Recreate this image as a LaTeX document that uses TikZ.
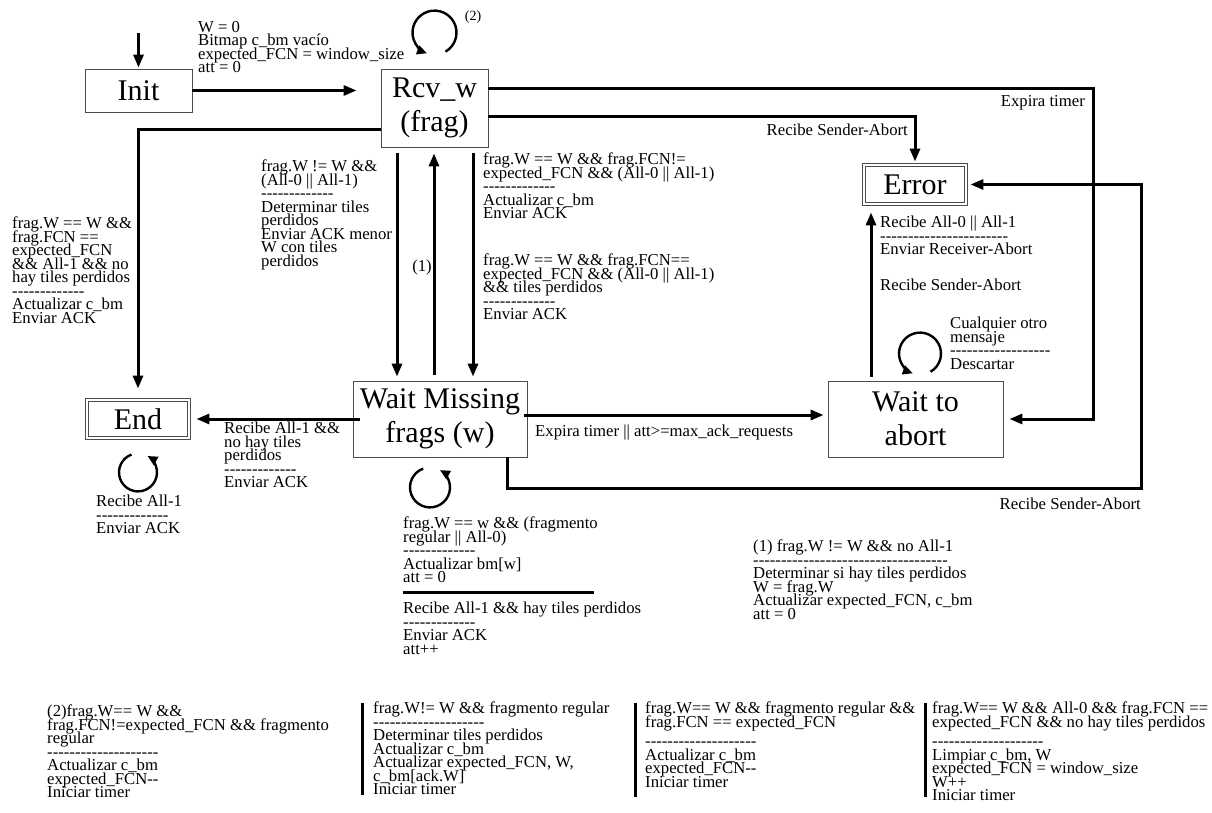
\documentclass[tikz,border=0pt]{standalone}
\usepackage{fontspec}
\setmainfont{Liberation Serif}[Ligatures=TeXOff]
\usepackage{tikz}
\usetikzlibrary{arrows.meta,positioning,calc}
\newcommand{\smtxt}{\fontsize{16.7}{13.5}\selectfont}
\newcommand{\bigtxt}{\fontsize{30}{34}\selectfont}
\newcommand{\dl}[1]{\foreach\k in {1,...,#1}{-}}
\lineskiplimit=-\maxdimen

\begin{document}
\begin{tikzpicture}[x=1pt, y=-1pt,
  box/.style={draw=black!70, line width=0.8pt, inner sep=0pt, align=center, font=\bigtxt},
  finbox/.style={box, double, double distance=1.6pt},
  arr/.style={line width=3pt, -{Triangle[length=13pt,width=10pt]}},
  loopy/.style={line width=2.4pt, -{Triangle[length=10pt,width=9pt]}},
  lbl/.style={font=\smtxt, align=left, inner sep=0pt},
  bar/.style={line width=3pt}]
\useasboundingbox (0,0) rectangle (1212,813);

\node[box, minimum width=107pt, minimum height=43pt] (init) at (138.5,90.5) {Init};
\node[box, minimum width=107pt, minimum height=78pt] (rcv) at (434.5,108) {Rcv\_w\\(frag)};
\node[box, minimum width=174pt, minimum height=76pt] (wmiss) at (440,419) {Wait Missing\\frags (w)};
\node[box, minimum width=175pt, minimum height=76pt] (wabort) at (915.5,419) {Wait to\\abort};
\node[finbox, minimum width=102pt, minimum height=39pt] (err) at (915,184.5) {Error};
\node[finbox, minimum width=102pt, minimum height=38pt] (fin) at (138,419) {End};

\coordinate (start) at (138.5,33);
\draw[arr, shorten >=1pt] (start) -- (init.north);
\draw[arr, shorten >=24pt] (init.east) -- (init.east -| rcv.west);
\draw[arr, shorten >=6pt] ([yshift=19pt]rcv.east) -| ($(wabort.east)+(90,0)$) -- (wabort.east);
\draw[arr, shorten >=3pt] ([yshift=-9pt]rcv.east) -| (err.north);
\draw[arr, shorten >=11pt] ([yshift=-22pt]rcv.west) -| (fin.north);
\draw[arr, shorten <=6pt, shorten >=4pt] ([xshift=-37.5pt]rcv.south) -- ([xshift=-37.5pt]rcv.south |- wmiss.north);
\draw[arr, shorten <=6pt, shorten >=6pt] ([xshift=-6pt]wmiss.north) -- ([xshift=-6pt]wmiss.north |- rcv.south);
\draw[arr, shorten <=6pt, shorten >=4pt] ([xshift=38.5pt]rcv.south) -- ([xshift=38.5pt]rcv.south |- wmiss.north);
\draw[arr, shorten <=-7pt, shorten >=7pt] (wmiss.west) -- (wmiss.west -| fin.east);
\draw[arr, shorten <=-3pt, shorten >=4pt] ([yshift=4pt]wmiss.east) -- ([yshift=4pt]wmiss.east -| wabort.west);
\draw[arr, shorten <=4pt, shorten >=8pt] ([xshift=-44.5pt]wabort.north) -- ([xshift=-44.5pt]wabort.north |- err.south);
\draw[arr, shorten >=4pt] ([xshift=-20pt]wmiss.south east) |- ($(err.east)+(175,303.5)$) |- (err.east);

\coordinate (lp1) at ($(rcv.north)+(0,-36)$);
\coordinate (lp2) at ($(fin.south)+(0,34)$);
\coordinate (lp3) at ($(wmiss.south)+(-10,30)$);
\coordinate (lp4) at ($(wabort.north)+(4.5,-27)$);
\draw[loopy] ([shift={(-60:22pt)}]lp1) arc[start angle=-60, end angle=250, radius=22pt];
\draw[loopy] ([shift={(110:19pt)}]lp2) arc[start angle=110, end angle=420, radius=19pt];
\draw[loopy] ([shift={(110:20pt)}]lp3) arc[start angle=110, end angle=420, radius=20pt];
\draw[loopy] ([shift={(-60:21pt)}]lp4) arc[start angle=-60, end angle=250, radius=21pt];

\node[lbl, anchor=north west] (initlbl) at (198,21) {W = 0\\Bitmap c\_bm vacío\\expected\_FCN = window\_size\\att = 0};
\node[lbl, font=\fontsize{14}{14}\selectfont] (twolbl) at (473,17) {(2)};
\node[lbl, anchor=east] (expiralbl) at (1085,103) {Expira timer};
\node[lbl, anchor=east] (sabortlbl) at (908,130) {Recibe Sender-Abort};
\node[lbl, anchor=north west] (finlbl) at (12,217) {frag.W == W \&\&\\frag.FCN ==\\expected\_FCN\\\&\& All-1 \&\& no\\hay tiles perdidos\\\dl{13}\\Actualizar c\_bm\\Enviar ACK};
\node[lbl, anchor=north west] (downlbl) at (261,160) {frag.W != W \&\&\\(All-0 || All-1)\\\dl{13}\\Determinar tiles\\perdidos\\Enviar ACK menor\\W con tiles\\perdidos};
\node[lbl, anchor=east] (onelbl) at (432,267) {(1)};
\node[lbl, anchor=north west] (neqlbl) at (483,153) {frag.W == W \&\& frag.FCN!=\\expected\_FCN \&\& (All-0 || All-1)\\\dl{13}\\Actualizar c\_bm\\Enviar ACK};
\node[lbl, anchor=north west] (eqlbl) at (483,254) {frag.W == W \&\& frag.FCN==\\expected\_FCN \&\& (All-0 || All-1)\\\&\& tiles perdidos\\\dl{13}\\Enviar ACK};
\node[lbl, anchor=north west] (errlbl) at (880,216) {Recibe All-0 || All-1\\\dl{23}\\Enviar Receiver-Abort};
\node[lbl, anchor=west] (errlbl2) at (880,285) {Recibe Sender-Abort};
\node[lbl, anchor=north west] (discardlbl) at (950,317) {Cualquier otro\\mensaje\\\dl{18}\\Descartar};
\node[lbl, anchor=north west] (endlbl) at (224,422) {Recibe All-1 \&\&\\no hay tiles\\perdidos\\\dl{13}\\Enviar ACK};
\node[lbl, anchor=north west] (endloop) at (96,495) {Recibe All-1\\\dl{13}\\Enviar ACK};
\node[lbl, anchor=west] (timerlbl) at (535,433) {Expira timer || att>=max\_ack\_requests};
\node[lbl, anchor=east] (sabortlbl2) at (1141,504) {Recibe Sender-Abort};
\node[lbl, anchor=north west] (wmlbl) at (403,517) {frag.W == w \&\& (fragmento\\regular || All-0)\\\dl{13}\\Actualizar bm[w]\\att = 0};
\draw[bar] (403,592) -- (594,592);
\node[lbl, anchor=north west] (wmlbl2) at (403,602) {Recibe All-1 \&\& hay tiles perdidos\\\dl{13}\\Enviar ACK\\att++};
\node[lbl, anchor=north west] (notelbl) at (753,540) {(1) frag.W != W \&\& no All-1\\\dl{35}\\Determinar si hay tiles perdidos\\W = frag.W\\Actualizar expected\_FCN, c\_bm\\att = 0};

\node[lbl, anchor=north west] (bot1) at (47,705) {(2)frag.W== W \&\&\\frag.FCN!=expected\_FCN \&\& fragmento\\regular\\\dl{20}\\Actualizar c\_bm\\expected\_FCN--\\Iniciar timer};
\draw[bar] (362,703) -- (362,795);
\node[lbl, anchor=north west] (bot2) at (373,702) {frag.W!= W \&\& fragmento regular\\\dl{20}\\Determinar tiles perdidos\\Actualizar c\_bm\\Actualizar expected\_FCN, W,\\c\_bm[ack.W]\\Iniciar timer};
\draw[bar] (635,703) -- (635,797);
\node[lbl, anchor=north west] (bot3) at (645,702) {frag.W== W \&\& fragmento regular \&\&\\frag.FCN == expected\_FCN\\[6pt]\dl{20}\\Actualizar c\_bm\\expected\_FCN--\\Iniciar timer};
\draw[bar] (925,703) -- (925,797);
\node[lbl, anchor=north west] (bot4) at (932,702) {frag.W== W \&\& All-0 \&\& frag.FCN ==\\expected\_FCN \&\& no hay tiles perdidos\\[6pt]\dl{20}\\Limpiar c\_bm, W\\expected\_FCN = window\_size\\W++\\Iniciar timer};
\end{tikzpicture}
\end{document}
